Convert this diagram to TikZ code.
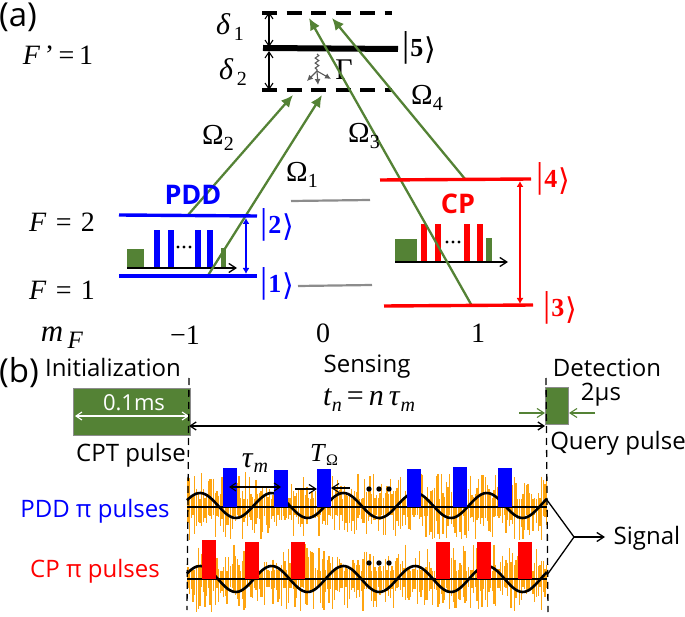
\documentclass[tikz,border=0pt]{standalone}
\usepackage{fix-cm}
\usepackage{fontspec}
\setmainfont{Liberation Serif}
\newfontfamily\uifont{Open Sans}
\newfontfamily\brafont{DejaVu Sans}
\usetikzlibrary{arrows.meta,decorations.pathmorphing}
\definecolor{cgreen}{HTML}{548235}
\definecolor{cblue}{HTML}{0000FF}
\definecolor{cred}{HTML}{FF0000}
\definecolor{corange}{HTML}{FFA510}
\definecolor{cgrey}{HTML}{8C8C8C}
\newcommand{\fs}[1]{\fontsize{#1}{#1}\selectfont}
\newcommand{\subs}[1]{\raisebox{-0.4ex}{\fs{20}\,#1}}
\newcommand{\subn}[1]{\raisebox{-0.4ex}{\fs{20}#1}}
\newcommand{\ket}[1]{{\mdseries\fs{36}|}\hspace{1pt}#1\hspace{1pt}\raisebox{-3pt}{\mdseries\brafont\fs{30}⟩}}
\tikzset{
  lab/.style={inner sep=0pt,font=\fs{28}},
  ui/.style={inner sep=0pt,font=\uifont\fs{24}},
  ketlab/.style={inner sep=0pt,font=\bfseries\fs{26}},
  dashedlevel/.style={line width=3.2pt,dash pattern=on 15pt off 9.5pt},
  beam/.style={cgreen,line width=2.3pt,-{Latex[length=12pt,width=11pt]}},
  blevel/.style={cblue,line width=3.4pt},
  rlevel/.style={cred,line width=3.4pt},
  glevel/.style={cgrey,line width=2.2pt},
  dbl/.style={line width=1.1pt,{Straight Barb[length=6pt,width=8pt]}-{Straight Barb[length=6pt,width=8pt]}},
  sarr/.style={line width=1.1pt,-{Straight Barb[length=7pt,width=9pt]}},
  gboxb/.style={fill=cgreen,draw=cgrey,line width=1pt},
  vdash/.style={line width=1.3pt,dash pattern=on 7pt off 5pt},
}
\begin{document}
\begin{tikzpicture}[x=1pt,y=-1pt]
\useasboundingbox (0,0) rectangle (685,617);
% ---------- panel (a)
\node[inner sep=0pt,font=\uifont\fs{33}] (pa) at (18,17) {(a)};
\node[lab] (fp) at (58,55) {\textit{F}\,'\,=\,1};
\node[lab] (f2) at (62,222) {\textit{F}\,\,=\,\,2};
\node[lab] (f1) at (62,290) {\textit{F}\,\,=\,\,1};
\node[lab,font=\fs{31}] (mf) at (62,338) {\textit{m}\raisebox{-0.5ex}{\fs{25}\,\textit{F}}};
\node[lab] (m1) at (185,335) {−1};
\node[lab] (m0) at (323,333) {0};
\node[lab] (mp) at (478,333) {1};
% excited levels
\coordinate (t1) at (262,13); \coordinate (t2) at (392,13);
\coordinate (b1) at (262,90); \coordinate (b2) at (392,90);
\coordinate (e1) at (263,48); \coordinate (e2) at (398,49);
\draw[dashedlevel] (t1) -- (t2);
\draw[dashedlevel] (b1) -- (b2);
\draw[line width=6pt] (e1) -- (e2);
\coordinate (da) at (269,12); \coordinate (db) at (269,47); \coordinate (dc) at (269,51); \coordinate (dd) at (269,90);
\draw[dbl] (da) -- (db);
\draw[dbl] (dc) -- (dd);
\node[lab,font=\fs{30}] (d1) at (230,27) {\textit{δ}\subs{1}};
\node[lab,font=\fs{30}] (d2) at (233,72) {\textit{δ}\subs{2}};
\node[ketlab] (k5) at (419,48) {\ket{5}};
\node[lab,font=\fs{30}] (gam) at (344,70) {Γ};
% decay
\coordinate (q0) at (317,54); \coordinate (q1) at (317,71);
\coordinate (q2) at (307,81); \coordinate (q3) at (318,85); \coordinate (q4) at (331,79);
\draw[gray!70!black,line width=1.1pt,decorate,decoration={snake,amplitude=1.8pt,segment length=5pt}] (q0) -- (q1);
\foreach \q in {q2,q3,q4}{\draw[gray!70!black,line width=1.1pt,-{Latex[length=6pt,width=6pt]}] (q1) -- (\q);}
% levels
\coordinate (bu1) at (119,215); \coordinate (bu2) at (257,216);
\coordinate (bl1) at (119,276); \coordinate (bl2) at (257,276);
\coordinate (ru1) at (380,180); \coordinate (ru2) at (531,179);
\coordinate (rl1) at (384,306); \coordinate (rl2) at (533,305);
\coordinate (gu1) at (291,201); \coordinate (gu2) at (370,200);
\coordinate (gl1) at (298,286); \coordinate (gl2) at (372,285);
\draw[glevel] (gu1) -- (gu2);
\draw[glevel] (gl1) -- (gl2);
% inset blue
\fill[cgreen] (127,249) rectangle (144,268);
\fill[cgreen] (221,248) rectangle (226,268);
\foreach \x in {154,168,195,207}{\fill[cblue] (\x,230) rectangle (\x+6,268);}
\foreach \x in {178,184,190}{\fill (\x,247) circle (1.6pt);}
\coordinate (ib1) at (127,268); \coordinate (ib2) at (237,268);
\draw[sarr,line width=1.3pt] (ib1) -- (ib2);
% inset red
\fill[cgreen] (395,239) rectangle (417,262);
\fill[cgreen] (486,238) rectangle (492,262);
\foreach \x in {421,435,464,477}{\fill[cred] (\x,224) rectangle (\x+6,262);}
\foreach \x in {447,453,459}{\fill (\x,242) circle (1.6pt);}
\coordinate (ir1) at (395,262); \coordinate (ir2) at (508,262);
\draw[sarr,line width=1.3pt] (ir1) -- (ir2);
% beams
\coordinate (s2) at (188,215); \coordinate (s2e) at (293,95);
\coordinate (s1) at (207,277); \coordinate (s1e) at (322,95);
\coordinate (s3) at (472,306); \coordinate (s3e) at (309,18);
\coordinate (s4) at (465,179); \coordinate (s4e) at (332,18);
\draw[beam] (s2) -- (s2e);
\draw[beam] (s1) -- (s1e);
\draw[beam] (s3) -- (s3e);
\draw[beam] (s4) -- (s4e);
\draw[blevel] (bu1) -- (bu2);
\draw[blevel] (bl1) -- (bl2);
\draw[rlevel] (ru1) -- (ru2);
\draw[rlevel] (rl1) -- (rl2);
\coordinate (ba) at (246,218); \coordinate (bb) at (246,274);
\draw[cblue,line width=1.6pt,{Latex[length=6pt,width=7pt]}-{Latex[length=6pt,width=7pt]}] (ba) -- (bb);
\coordinate (ra) at (520,181); \coordinate (rb) at (520,304);
\draw[cred,line width=1.6pt,{Latex[length=6pt,width=7pt]}-{Latex[length=6pt,width=7pt]}] (ra) -- (rb);
\node[lab,font=\fs{29}] (o2) at (218,138) {Ω\subn{2}};
\node[lab,font=\fs{29}] (o1) at (302,175) {Ω\subn{1}};
\node[lab,font=\fs{29}] (o3) at (364,136) {Ω\subn{3}};
\node[lab,font=\fs{29}] (o4) at (427,98) {Ω\subn{4}};
\node[inner sep=0pt,font=\uifont\bfseries\fs{27},text=cblue] (pdd) at (193,195) {PDD};
\node[inner sep=0pt,font=\uifont\bfseries\fs{27},text=cred] (cp) at (458,204) {CP};
\node[ketlab,text=cblue] (k2) at (277,225) {\ket{2}};
\node[ketlab,text=cblue] (k1) at (277,284) {\ket{1}};
\node[ketlab,text=cred] (k4) at (553,179) {\ket{4}};
\node[ketlab,text=cred] (k3) at (560,308) {\ket{3}};
% ---------- panel (b)
\node[inner sep=0pt,font=\uifont\fs{33}] (pb) at (19,373) {(b)};
\node[ui] (ini) at (113,367) {Initialization};
\node[ui] (sen) at (367,367) {Sensing};
\node[ui] (det) at (607,368) {Detection};
\node[gboxb,minimum width=117pt,minimum height=47pt,inner sep=0pt] (cpt) at (131.5,411.5) {};
\node[ui,text=white,font=\uifont\fs{22}] (t01) at (134,403) {0.1ms};
\coordinate (wa) at (75,416); \coordinate (wb) at (189,416);
\draw[white,line width=1.1pt,{Straight Barb[length=6pt,width=8pt]}-{Straight Barb[length=6pt,width=8pt]}] (wa) -- (wb);
\node[ui] (cptl) at (131,455) {CPT pulse};
\node[lab,font=\fs{30}] (tn) at (369,400) {\textit{t}\subn{\textit{n}}\,=\,\textit{n}\,\textit{τ}\subn{\textit{m}}};
\node[gboxb,minimum width=23pt,minimum height=37pt,inner sep=0pt] (qp) at (557,405.5) {};
\node[ui] (t2us) at (601,395) {2μs};
\coordinate (ga) at (519,413); \coordinate (gb) at (595,413);
\draw[cgreen,sarr] (ga) -- (qp.west |- ga);
\draw[cgreen,sarr] (gb) -- (qp.east |- gb);
\node[ui] (qpl) at (618,443) {Query pulse};
\coordinate (v1a) at (189,378); \coordinate (v1b) at (187,610);
\coordinate (v2a) at (546,378); \coordinate (v2b) at (548,612);
\coordinate (ta) at (189,426); \coordinate (tb) at (545,426);
\draw[dbl,line width=1.3pt] (ta) -- (tb);
% noise + waves
\pgfmathsetseed{4217}
\foreach \base in {507,579}{
  \foreach \x in {188,189.7,...,547}{
    \pgfmathsetmacro{\ru}{rnd}
    \pgfmathsetmacro{\rd}{rnd}
    \pgfmathsetmacro{\up}{8+27*\ru*\ru}
    \pgfmathsetmacro{\dn}{8+25*\rd*\rd}
    \draw[corange,line width=1.3pt] (\x,\base-\up) -- (\x,\base+\dn);
  }
}
\draw[line width=2.6pt,domain=187:547,samples=160,smooth] plot (\x,{505.5-12.5*cos((\x-200)/71.7*360)});
\draw[line width=2.6pt,domain=187:547,samples=160,smooth] plot (\x,{579-13*cos((\x-200)/71.7*360)});
\coordinate (l1a) at (187,507); \coordinate (l1b) at (547,507);
\coordinate (l2a) at (187,579); \coordinate (l2b) at (547,579);
\draw[line width=1.3pt] (l1a) -- (l1b);
\draw[line width=1.3pt] (l2a) -- (l2b);
\foreach \x/\y in {223/468,274/470,317/469,407/469,453/467,498/468}{\fill[cblue] (\x,\y) rectangle (\x+14,507);}
\foreach \x/\y in {202/540,245/542,291/542,436/542,477/542,518/542}{\fill[cred] (\x,\y) rectangle (\x+14,579);}
\foreach \y in {489,563}{\foreach \x in {369,379,389}{\fill (\x,\y) circle (2.7pt);}}
\draw[vdash] (v1a) -- (v1b);
\draw[vdash] (v2a) -- (v2b);
\coordinate (xa) at (229,487); \coordinate (xb) at (281,487);
\draw[dbl] (xa) -- (xb);
\coordinate (ya) at (295,489); \coordinate (yb) at (317,489);
\coordinate (za) at (350,488); \coordinate (zb) at (331,488);
\draw[sarr] (ya) -- (yb);
\draw[sarr] (za) -- (zb);
\node[lab,font=\fs{30}] (tau) at (255,463) {\textit{τ}\subn{\textit{m}}};
\node[lab,font=\fs{26}] (tom) at (324,455) {\textit{T}\raisebox{-0.4ex}{\fs{16}Ω}};
\node[ui,text=cblue] (lp) at (95,511) {PDD π pulses};
\node[ui,text=cred] (lc) at (95,571) {CP π pulses};
\coordinate (sa) at (547,500); \coordinate (sb) at (547,575); \coordinate (sm) at (574,537); \coordinate (se) at (605,537);
\draw[line width=1.3pt] (sa) -- (sm) -- (sb);
\draw[sarr,line width=1.3pt] (sm) -- (se);
\node[ui] (sig) at (647,538) {Signal};
\end{tikzpicture}
\end{document}
